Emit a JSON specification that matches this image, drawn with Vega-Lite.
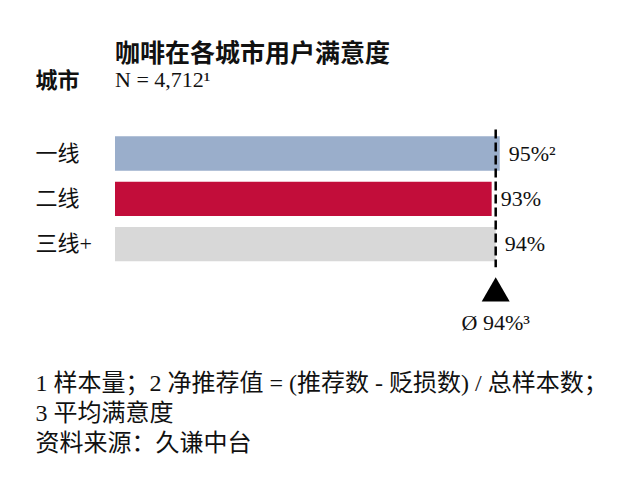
{
  "$schema": "https://vega.github.io/schema/vega-lite/v6.json",
  "width": 405,
  "height": 183,
  "autosize": {"type": "none"},
  "padding": {"left": 115, "top": 130, "right": 107, "bottom": 187},
  "background": "white",
  "title": {
    "text": "咖啡在各城市用户满意度",
    "subtitle": "N = 4,712¹",
    "anchor": "start",
    "frame": "group",
    "offset": -22,
    "font": "Noto Sans CJK SC",
    "fontSize": 25,
    "fontWeight": "bold",
    "color": "#111111",
    "subtitleFont": "Liberation Serif",
    "subtitleFontSize": 22,
    "subtitleColor": "#111111",
    "subtitlePadding": 3.5
  },
  "config": {"view": {"stroke": null}},
  "data": {
    "values": [
      {"城市": "一线", "满意度": 95, "标签": "95%²"},
      {"城市": "二线", "满意度": 93, "标签": "93%"},
      {"城市": "三线+", "满意度": 94, "标签": "94%"}
    ]
  },
  "layer": [
    {
      "mark": {"type": "bar"},
      "encoding": {
        "y": {
          "field": "城市",
          "type": "nominal",
          "scale": {"domain": ["一线", "二线", "三线+", "平均"], "paddingInner": 0.243, "paddingOuter": 0.14},
          "axis": {
            "values": ["一线", "二线", "三线+"],
            "title": "城市",
            "titleAngle": 0,
            "titleAlign": "left",
            "titleBaseline": "middle",
            "titleX": -80,
            "titleY": -50,
            "titleFontSize": 22,
            "titleFont": "Noto Sans CJK SC",
            "titleFontWeight": "bold",
            "titleColor": "#111111",
            "ticks": false,
            "tickSize": 0,
            "domain": false,
            "grid": false,
            "labelAlign": "left",
            "labelBaseline": "middle",
            "labelPadding": 80,
            "labelFontSize": 22,
            "labelFont": "Liberation Serif, Noto Sans CJK SC",
            "labelColor": "#111111"
          }
        },
        "x": {
          "field": "满意度",
          "type": "quantitative",
          "scale": {"domain": [0, 100]},
          "axis": {
            "title": ["1 样本量；2 净推荐值 = (推荐数 - 贬损数) / 总样本数；", "3 平均满意度", "资料来源：久谦中台"],
            "labels": false,
            "ticks": false,
            "domain": false,
            "grid": false,
            "titleAnchor": "start",
            "titleAlign": "left",
            "titleX": -80,
            "titleY": 58,
            "titleBaseline": "top",
            "titleFontSize": 24,
            "titleFontWeight": "normal",
            "titleLineHeight": 30,
            "titleFont": "Liberation Serif, Noto Sans CJK SC",
            "titleColor": "#111111"
          }
        },
        "color": {
          "field": "城市",
          "type": "nominal",
          "scale": {"domain": ["一线", "二线", "三线+"], "range": ["#9AAECB", "#C20D3A", "#D8D8D8"]},
          "legend": null
        }
      }
    },
    {
      "mark": {"type": "text", "align": "left", "baseline": "middle", "dx": 9, "fontSize": 22, "font": "Liberation Serif", "color": "#111111"},
      "encoding": {
        "y": {"field": "城市", "type": "nominal"},
        "x": {"field": "满意度", "type": "quantitative"},
        "text": {"field": "标签"}
      }
    },
    {
      "data": {"values": [{"平均": 94, "行": "平均", "标签": "Ø 94%³"}]},
      "layer": [
        {
          "mark": {"type": "rule", "strokeDash": [9, 4], "strokeWidth": 2.5, "color": "#000000", "yOffset": -24, "y2Offset": 23},
          "encoding": {
            "x": {"field": "平均", "type": "quantitative"},
            "y": {"datum": "一线", "type": "nominal"},
            "y2": {"datum": "三线+"}
          }
        },
        {
          "mark": {"type": "point", "shape": "triangle-up", "filled": true, "size": 784, "color": "#000000", "opacity": 1},
          "encoding": {
            "x": {"field": "平均", "type": "quantitative"},
            "y": {"field": "行", "type": "nominal"}
          }
        },
        {
          "mark": {"type": "text", "align": "center", "baseline": "middle", "dy": 34, "fontSize": 22, "font": "Liberation Serif", "color": "#111111"},
          "encoding": {
            "x": {"field": "平均", "type": "quantitative"},
            "y": {"field": "行", "type": "nominal"},
            "text": {"field": "标签"}
          }
        }
      ]
    }
  ]
}
